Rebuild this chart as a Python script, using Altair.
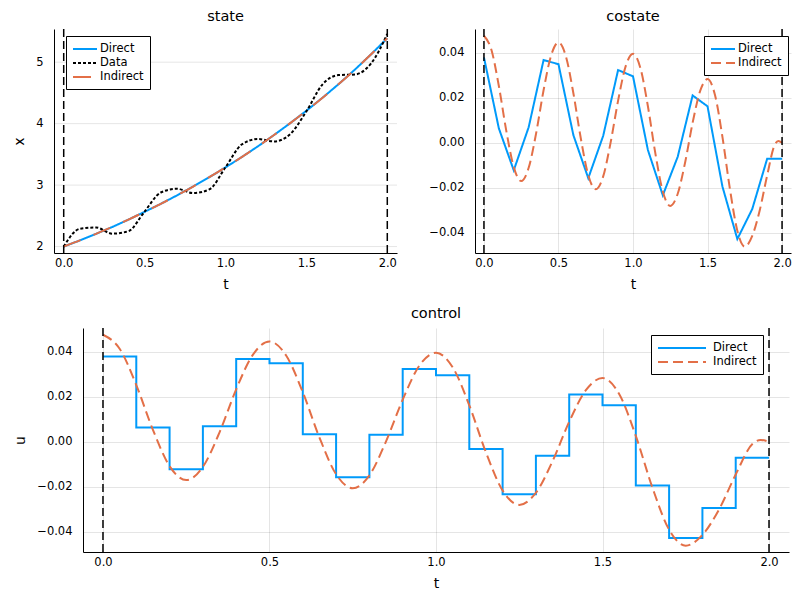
import altair as alt
import pandas as pd

# ---------------- data ----------------
t_nodes = [0.0, 0.1, 0.2, 0.3, 0.4, 0.5, 0.6, 0.7, 0.8, 0.9, 1.0,
           1.1, 1.2, 1.3, 1.4, 1.5, 1.6, 1.7, 1.8, 1.9, 2.0]

state_model = [2.000, 2.100, 2.207, 2.318, 2.438, 2.565, 2.695, 2.832, 2.977, 3.128, 3.288,
               3.455, 3.630, 3.815, 4.008, 4.210, 4.422, 4.645, 4.880, 5.128, 5.390]

state_data = [2.00, 2.29, 2.31, 2.21, 2.25, 2.57, 2.88, 2.94, 2.87, 2.93, 3.29,
              3.66, 3.75, 3.71, 3.83, 4.20, 4.64, 4.79, 4.80, 4.98, 5.46]

u_direct = [0.0379, 0.0064, -0.0122, 0.0069, 0.0367, 0.0349, 0.0034, -0.0157, 0.0031, 0.0323, 0.0295,
            -0.0032, -0.0233, -0.0062, 0.0210, 0.0162, -0.0194, -0.0427, -0.0294, -0.0071, -0.0071]

t_indirect = [0.00, 0.05, 0.10, 0.15, 0.20, 0.25, 0.30, 0.35, 0.40, 0.45,
              0.50, 0.55, 0.60, 0.65, 0.70, 0.75, 0.80, 0.85, 0.90, 0.95,
              1.00, 1.05, 1.10, 1.15, 1.20, 1.25, 1.30, 1.35, 1.40, 1.45,
              1.50, 1.55, 1.60, 1.65, 1.70, 1.75, 1.80, 1.85, 1.90, 1.95,
              1.975, 2.00]
u_indirect = [0.0475, 0.0413, 0.0252, 0.0053, -0.0108, -0.0170, -0.0111, 0.0042, 0.0233, 0.0386,
              0.0445, 0.0383, 0.0220, 0.0019, -0.0144, -0.0206, -0.0149, 0.0002, 0.0187, 0.0338,
              0.0395, 0.0331, 0.0162, -0.0047, -0.0216, -0.0280, -0.0226, -0.0086, 0.0089, 0.0229,
              0.0283, 0.0212, 0.0026, -0.0204, -0.0390, -0.0461, -0.0413, -0.0300, -0.0145, -0.0010,
              0.0008, 0.0000]

t_bounds = [0.0, 2.0]
t_domain = [-0.06, 2.06]
x_ticks = [0.0, 0.5, 1.0, 1.5, 2.0]
state_ticks = [2, 3, 4, 5]
u_ticks = [-0.04, -0.02, 0.0, 0.02, 0.04]

# ---------------- styling ----------------
FONT = "DejaVu Sans"
BLUE = "#009AFA"
ORANGE = "#E36F47"
BLACK = "#000000"
SHIFT = 29  # the state plot starts this far left of the control plot


def frame(t, v, name):
    return pd.DataFrame({"t": t, "v": v, "series": name})


def make_legend(lx, ly, path, loff):
    return alt.Legend(title=None, orient="none", legendX=lx, legendY=ly,
                      symbolType=path, symbolSize=144, symbolStrokeWidth=2,
                      strokeColor="black", fillColor="white", padding=6,
                      rowPadding=1, labelOffset=loff, labelFont=FONT, labelFontSize=11.5,
                      labelColor="black", cornerRadius=0)


def panel(series, names, colors, dashes, leg, ydomain, yticks, yfmt, ytitle, width, title,
          shift=0, toffset=0):
    if shift:
        xscale = alt.Scale(domain=t_domain, nice=False, zero=False, range=[-shift, width])
        yaxis = alt.Axis(values=yticks, format=yfmt, title=ytitle, offset=shift, grid=False)
        ttl = alt.TitleParams(text=title, dx=-shift / 2, offset=toffset)
    else:
        xscale = alt.Scale(domain=t_domain, nice=False, zero=False)
        yaxis = alt.Axis(values=yticks, format=yfmt, title=ytitle)
        ttl = alt.TitleParams(text=title, offset=toffset)
    xenc = alt.X("t:Q", scale=xscale, axis=alt.Axis(values=x_ticks, format=".1f", title="t"))
    yscale = alt.Scale(domain=ydomain, nice=False, zero=False)
    yenc = alt.Y("v:Q", scale=yscale, axis=yaxis)
    cenc = alt.Color("series:N", scale=alt.Scale(domain=names, range=colors), legend=leg)
    denc = alt.StrokeDash("series:N", scale=alt.Scale(domain=names, range=dashes), legend=leg)
    layers = []
    if shift:
        # horizontal grid lines drawn through the scales, spanning the whole t domain
        layers.append(
            alt.Chart(pd.DataFrame({"v": yticks})).mark_rule(
                color=BLACK, opacity=0.1, strokeWidth=1).encode(
                y=alt.Y("v:Q", scale=yscale, axis=yaxis),
                x=alt.datum(t_domain[0], scale=xscale),
                x2=alt.datum(t_domain[1]))
        )
    for df, interp in series:
        layers.append(
            alt.Chart(df).mark_line(strokeWidth=2, interpolate=interp).encode(
                x=xenc, y=yenc, color=cenc, strokeDash=denc)
        )
    rules = alt.Chart(pd.DataFrame({"t": t_bounds})).mark_rule(
        color=BLACK, strokeDash=[8, 4], strokeWidth=1.5).encode(x=xenc)
    layers.append(rules)
    return alt.layer(*layers).properties(width=width, height=224, title=ttl)


state = panel(
    [(frame(t_nodes, state_model, "Direct"), "linear"),
     (frame(t_nodes, state_data, "Data"), "monotone"),
     (frame(t_nodes, state_model, "Indirect"), "monotone")],
    ["Direct", "Data", "Indirect"], [BLUE, BLACK, ORANGE], [[1, 0], [3, 2], [18, 14]],
    make_legend(12 - SHIFT, 7, "M-1,0H3", 14), [1.895, 5.54], state_ticks, "d", "x",
    343 - SHIFT, "state", shift=SHIFT, toffset=4)

costate = panel(
    [(frame(t_nodes, u_direct, "Direct"), "linear"),
     (frame(t_indirect, u_indirect, "Indirect"), "monotone")],
    ["Direct", "Indirect"], [BLUE, ORANGE], [[1, 0], [10, 5]],
    make_legend(229, 7, "M-1,0H3", 14), [-0.0489, 0.0505], u_ticks, ".2f", None, 316, "costate",
    toffset=4)

control = panel(
    [(frame(t_nodes, u_direct, "Direct"), "step-after"),
     (frame(t_indirect, u_indirect, "Indirect"), "monotone")],
    ["Direct", "Indirect"], [BLUE, ORANGE], [[1, 0], [10, 5]],
    make_legend(568, 7, "M-1,0H7", 42), [-0.0489, 0.0505], u_ticks, ".2f", "u", 706, "control",
    toffset=6)

# the state x-axis reports a span starting at its origin, so its right bound sits SHIFT px
# beyond the visible plot; the small spacing compensates for that.
top = alt.hconcat(state, costate, spacing=2).resolve_scale(
    color="independent", strokeDash="independent").resolve_legend(
    color="independent", strokeDash="independent")

chart = alt.vconcat(top, control, spacing=13).resolve_scale(
    color="independent", strokeDash="independent").resolve_legend(
    color="independent", strokeDash="independent").properties(
    padding={"left": 4, "top": 0, "right": 0, "bottom": 0}
).configure_axis(
    labelFont=FONT, labelFontSize=11.5, labelColor="black",
    titleFont=FONT, titleFontSize=14, titleFontWeight="normal", titleColor="black",
    domainColor="black", domainWidth=1,
    gridColor="black", gridOpacity=0.1, gridWidth=1,
    ticks=False, labelFlush=False
).configure_axisX(
    labelPadding=4, titlePadding=9
).configure_axisY(
    labelPadding=11, titlePadding=9
).configure_title(
    font=FONT, fontSize=14.5, fontWeight="normal", color="black", anchor="middle"
).configure_view(
    strokeWidth=0
)

chart.save("out.html", embed_options={"renderer": "svg", "actions": False})
